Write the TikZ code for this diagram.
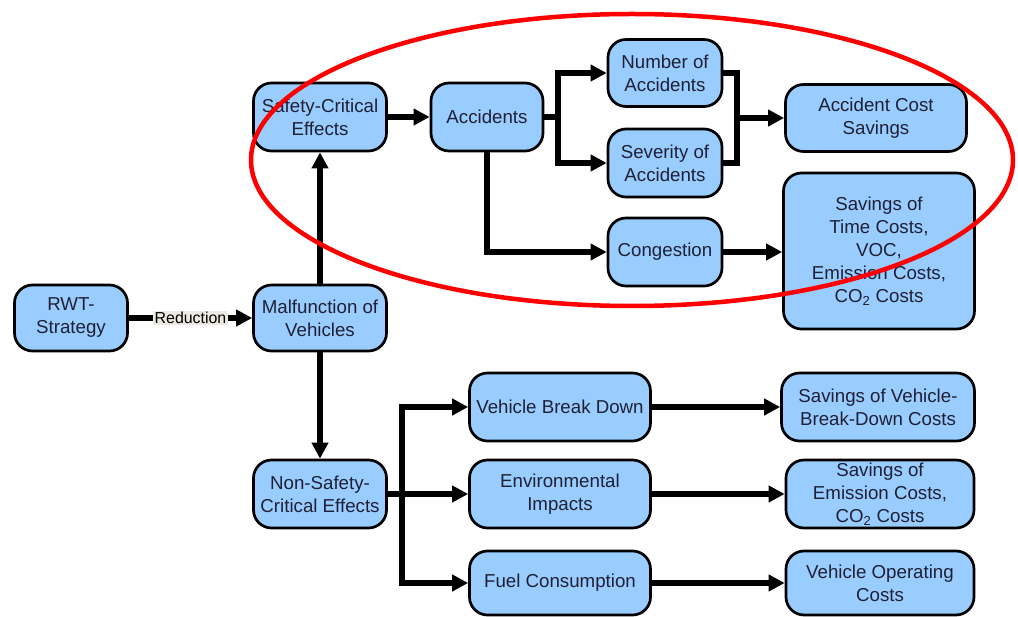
\documentclass[tikz,border=0pt]{standalone}
\usepackage{fontspec}
\setmainfont{Liberation Sans}
\usetikzlibrary{arrows.meta}
\definecolor{boxfill}{HTML}{99CCFF}
\definecolor{txt}{HTML}{202035}
\definecolor{lblbg}{HTML}{ECE9E1}
\definecolor{ellred}{HTML}{FF0000}
\tikzset{
  box/.style={draw=black, line width=2.7pt, fill=boxfill, rounded corners=18pt,
    align=center, inner sep=0pt, text=txt,
    font=\fontsize{18.7}{23}\selectfont},
  conn/.style={line width=5.5pt, draw=black},
  arr/.style={conn, -{Triangle[length=16pt,width=16pt]}},
  lbl/.style={fill=lblbg, inner sep=1.5pt, text=black, font=\fontsize{15.9}{18}\selectfont}
}
\begin{document}
\begin{tikzpicture}[x=1pt,y=-1pt]
\useasboundingbox (0,0) rectangle (1018,617);
\node[box, minimum width=113pt, minimum height=66pt] (rwt) at (71,318) {RWT-\\Strategy};
\node[box, minimum width=133pt, minimum height=66pt] (mal) at (320,318) {Malfunction of\\Vehicles};
\node[box, minimum width=133pt, minimum height=68pt] (sce) at (320,117) {Safety-Critical\\Effects};
\node[box, minimum width=112pt, minimum height=68pt] (acc) at (487,117) {Accidents};
\node[box, minimum width=114pt, minimum height=67pt] (num) at (665,73) {Number of\\Accidents};
\node[box, minimum width=114pt, minimum height=68pt] (sev) at (665,163) {Severity of\\Accidents};
\node[box, minimum width=114pt, minimum height=68pt] (cong) at (665,252) {Congestion};
\node[box, minimum width=181pt, minimum height=67pt] (acs) at (876,118) {Accident Cost\\Savings};
\node[box, minimum width=191pt, minimum height=156pt] (stc) at (879,251) {Savings of\\Time Costs,\\VOC,\\Emission Costs,\\CO\textsubscript{2} Costs};
\node[box, minimum width=133pt, minimum height=68pt] (nsc) at (320,494) {Non-Safety-\\Critical Effects};
\node[box, minimum width=181pt, minimum height=68pt] (vbd) at (560,407) {Vehicle Break Down};
\node[box, minimum width=181pt, minimum height=68pt] (env) at (560,494) {Environmental\\Impacts};
\node[box, minimum width=181pt, minimum height=64pt] (fuel) at (560,583) {Fuel Consumption};
\node[box, minimum width=193pt, minimum height=68pt] (svb) at (878,407) {Savings of Vehicle-\\Break-Down Costs};
\node[box, minimum width=188pt, minimum height=68pt] (sec) at (880,494) {Savings of\\Emission Costs,\\CO\textsubscript{2} Costs};
\node[box, minimum width=188pt, minimum height=64pt] (voc) at (880,583) {Vehicle Operating\\Costs};

\coordinate (b1) at (558,117);
\coordinate (b2) at (737,118);
\coordinate (b3) at (402,494);

\draw[arr] (rwt.east) -- node[lbl] (red) {Reduction} (mal.west);
\draw[arr] (mal.north) -- (sce.south);
\draw[arr] (mal.south) -- (nsc.north);
\draw[arr] (sce.east) -- (acc.west);
\draw[conn] (acc.east) -- (b1);
\draw[arr] (b1) |- (num.west);
\draw[arr] (b1) |- (sev.west);
\draw[arr] (acc.south) |- (cong.west);
\draw[conn] (num.east) -| (b2) |- (sev.east);
\draw[arr] (b2) -- (acs.west);
\draw[arr] (cong.east) -- (stc.west |- cong.east);
\draw[conn] (nsc.east) -- (b3);
\draw[arr] (b3) |- (vbd.west);
\draw[arr] (b3) -- (env.west);
\draw[arr] (b3) |- (fuel.west);
\draw[arr] (vbd.east) -- (svb.west);
\draw[arr] (env.east) -- (sec.west);
\draw[arr] (fuel.east) -- (voc.west);

\draw[ellred, line width=4.5pt] (632,160) ellipse [x radius=381, y radius=146];
\end{tikzpicture}
\end{document}
